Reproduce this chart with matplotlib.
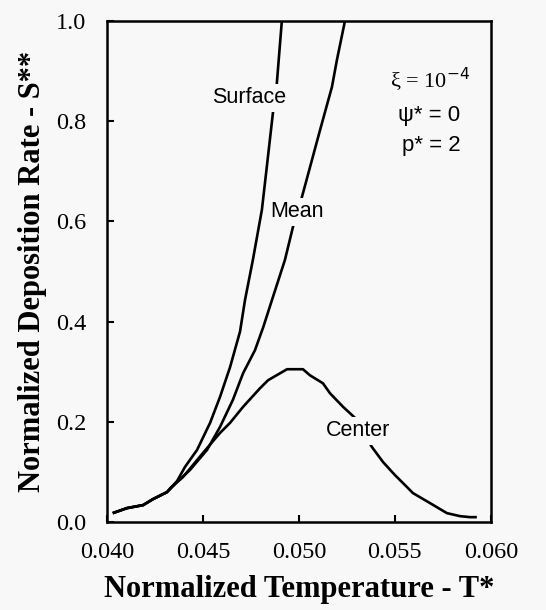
import matplotlib.pyplot as plt

t_surface = [0.0403, 0.04104, 0.04188, 0.0424, 0.04313, 0.04365, 0.04406, 0.04469, 0.04537,
             0.04589, 0.04641, 0.04693, 0.04719, 0.0476, 0.04807, 0.04833, 0.04865, 0.04885,
             0.04911]
s_surface = [0.018, 0.028, 0.034, 0.046, 0.060, 0.082, 0.110, 0.144, 0.198,
             0.250, 0.309, 0.380, 0.443, 0.523, 0.623, 0.710, 0.818, 0.876,
             1.0]

t_mean = [0.0403, 0.04104, 0.04188, 0.0424, 0.04313, 0.04365, 0.04432, 0.04521, 0.04589,
          0.04656, 0.04709, 0.04771, 0.04815, 0.04862, 0.04927, 0.04969, 0.05016,
          0.05057, 0.0511, 0.05172, 0.05198, 0.0524]
s_mean = [0.018, 0.028, 0.034, 0.046, 0.060, 0.080, 0.104, 0.144, 0.190,
          0.244, 0.297, 0.343, 0.390, 0.446, 0.523, 0.589, 0.649,
          0.707, 0.782, 0.868, 0.922, 1.0]

t_center = [0.0403, 0.04104, 0.04188, 0.0424, 0.04313, 0.0433, 0.04396, 0.045, 0.04589,
            0.04641, 0.04709, 0.04797, 0.04839, 0.04938, 0.05021, 0.05057, 0.05125,
            0.05162, 0.0523, 0.05292, 0.0538, 0.05438, 0.055, 0.05563, 0.05594, 0.05683,
            0.05771, 0.05839, 0.05891, 0.05927]
s_center = [0.018, 0.028, 0.034, 0.046, 0.060, 0.068, 0.090, 0.138, 0.178,
            0.198, 0.230, 0.267, 0.283, 0.305, 0.305, 0.293, 0.277,
            0.257, 0.230, 0.208, 0.150, 0.120, 0.094, 0.070, 0.058, 0.038,
            0.018, 0.012, 0.010, 0.010]

x_ticks = [0.040, 0.045, 0.050, 0.055, 0.060]
y_ticks = [0.0, 0.2, 0.4, 0.6, 0.8, 1.0]

bg = "#f8f8f8"
fig = plt.figure(figsize=(5.46, 6.10), dpi=100, facecolor=bg)
ax = fig.add_axes([0.196, 0.144, 0.703, 0.822], facecolor=bg)

for t, s in [(t_surface, s_surface), (t_mean, s_mean), (t_center, s_center)]:
    ax.plot(t, s, color="black", lw=1.9, solid_capstyle="butt", solid_joinstyle="round")

ax.set_xlim(0.040, 0.060)
ax.set_ylim(0.0, 1.0)
ax.set_xticks(x_ticks)
ax.set_yticks(y_ticks)
ax.set_xticklabels([f"{v:.3f}" for v in x_ticks])
ax.set_yticklabels([f"{v:.1f}" for v in y_ticks])
ax.tick_params(direction="in", length=5, width=1.5, labelsize=17.5)
ax.tick_params(axis="x", pad=14)
ax.tick_params(axis="y", pad=15)
for lab in ax.get_xticklabels() + ax.get_yticklabels():
    lab.set_family("Liberation Serif")
for sp in ax.spines.values():
    sp.set_linewidth(1.8)

ax.set_xlabel("Normalized Temperature - T*", family="Liberation Serif",
              fontweight="bold", fontsize=22, labelpad=9)
ax.set_ylabel("Normalized Deposition Rate - S**", family="Liberation Serif",
              fontweight="bold", fontsize=22, labelpad=6)

box = dict(facecolor=bg, edgecolor="none", pad=2.5)
ax.text(0.0474, 0.846, "Surface", family="Liberation Sans", fontsize=15.5,
        ha="center", va="center", bbox=box)
ax.text(0.0499, 0.619, "Mean", family="Liberation Sans", fontsize=15.5,
        ha="center", va="center", bbox=box)
ax.text(0.0531, 0.182, "Center", family="Liberation Sans", fontsize=15.5,
        ha="center", va="center", bbox=box)

ax.text(0.05683, 0.882, "ξ = 10$^{-4}$", family="Liberation Serif", fontsize=16,
        ha="center", va="center")
ax.text(0.0568, 0.812, "ψ* = 0", family="Liberation Sans", fontsize=16,
        ha="center", va="center")
ax.text(0.0569, 0.752, "p* = 2", family="Liberation Sans", fontsize=16,
        ha="center", va="center")

fig.savefig("out.png", dpi=100, facecolor=bg)
